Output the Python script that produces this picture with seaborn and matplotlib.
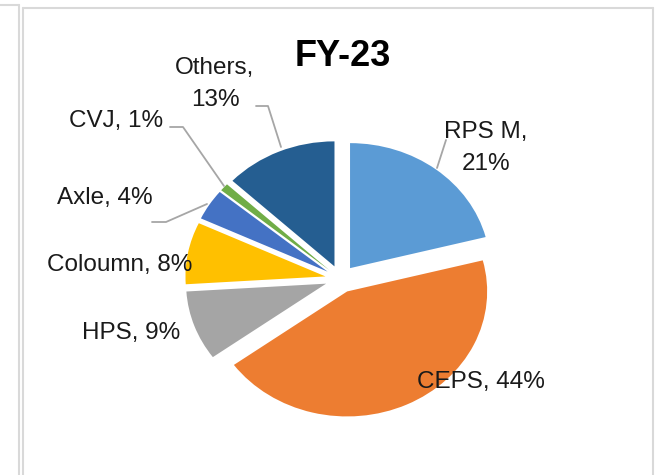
import matplotlib
matplotlib.use("Agg")
import matplotlib.pyplot as plt
import seaborn as sns
from matplotlib.lines import Line2D

# data
segments = ["RPS M", "CEPS", "HPS", "Coloumn", "Axle", "CVJ", "Others"]
shares = [21, 44, 9, 8, 4, 1, 13]
slice_colors = ["#5B9BD5", "#ED7D31", "#A5A5A5", "#FFC000", "#4472C4", "#70AD47", "#255E91"]
chart_title = "FY-23"

# label placement in pixels (x, y from top) and leader lines
label_pos = [(486, 148), (481, 382), (131, 333), (120, 265), (105, 198), (116, 121), (215, 84)]
label_text = ["RPS M,\n21%", "CEPS, 44%", "HPS, 9%", "Coloumn, 8%", "Axle, 4%", "CVJ, 1%", "Others,\n13%"]
leaders = {
    0: [(446, 140), (437, 168)],
    4: [(152, 222), (166, 222), (207, 204)],
    5: [(170, 127), (183, 127), (224, 186)],
    6: [(256, 106), (268, 106), (281, 147)],
}

sns.set_theme(style="white")
plt.rcParams["font.family"] = ["Liberation Sans", "DejaVu Sans"]

W, H = 660, 475
cx, cy, rx, ry = 340.6, 279, 140, 125

def to_data(x, y):
    return (x - cx) / rx, (cy - y) / ry

fig = plt.figure(figsize=(6.6, 4.75), dpi=100)
ax = fig.add_axes([0, 0, 1, 1])

ax.pie(shares, colors=sns.color_palette(slice_colors), startangle=90, counterclock=False,
       explode=[0.11] * len(shares), wedgeprops=dict(linewidth=0))
ax.set_aspect("auto")
ax.set_xlim(-cx / rx, (W - cx) / rx)
ax.set_ylim(-(H - cy) / ry, cy / ry)
ax.axis("off")

for i, txt in enumerate(label_text):
    x, y = to_data(*label_pos[i])
    ax.text(x, y, txt, ha="center", va="center", fontsize=17.5, color="#1a1a1a", linespacing=1.6)

for i, pts in leaders.items():
    xs, ys = zip(*[to_data(px, py) for px, py in pts])
    ax.plot(xs, ys, color="#A6A6A6", lw=1.3)

tx, ty = to_data(343, 56)
ax.text(tx, ty, chart_title, ha="center", va="center", fontsize=26, fontweight="bold", color="black")

# chart frame
frame_c = "#D9D9D9"
def fl(x0, y0, x1, y1, lw=1.5):
    fig.add_artist(Line2D([x0 / W, x1 / W], [1 - y0 / H, 1 - y1 / H], color=frame_c, lw=lw))

fl(0, 5, 19, 5)
fl(19, 5, 19, H)
fl(23, 8, 653, 8)
fl(23, 8, 23, H)
fl(653, 8, 653, H)

fig.savefig("out.png", dpi=100)
